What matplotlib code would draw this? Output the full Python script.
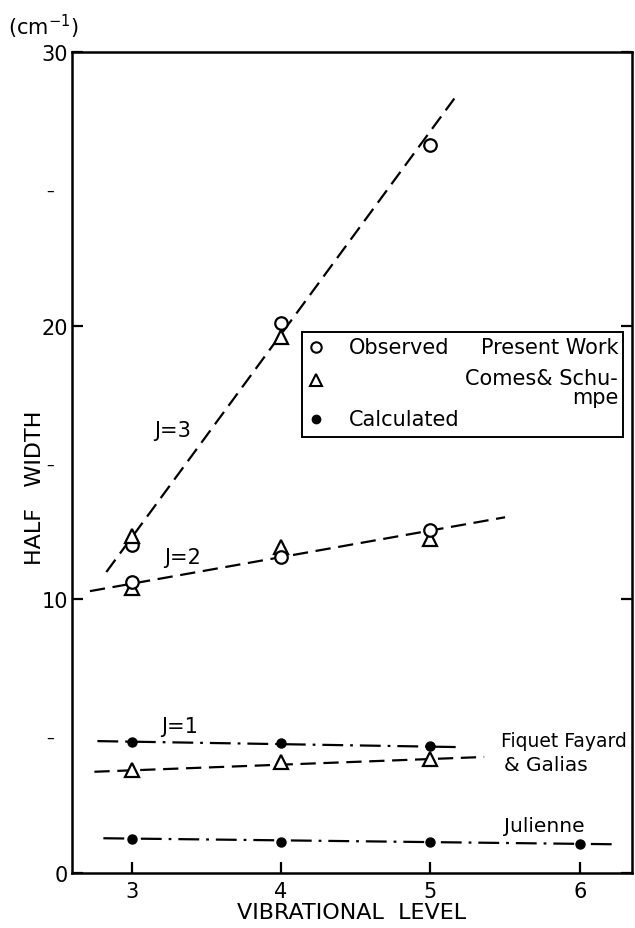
import matplotlib.pyplot as plt
from matplotlib.patches import Rectangle

plt.rcParams['font.family'] = ['DejaVu Sans']
plt.rcParams['lines.scale_dashes'] = False

# Level numbers
levels = [3, 4, 5]
levels_j = [3, 4, 5, 6]

# J=3, observed (present work) and Comes & Schumpe
j3_obs = [12.0, 20.1, 26.6]
j3_cs = [12.3, 19.6]
j3_fit_x = [2.83, 5.16]
j3_fit_y = [11.0, 28.3]

# J=2
j2_obs = [10.65, 11.55, 12.55]
j2_cs = [10.4, 11.9, 12.2]
j2_fit_x = [2.72, 5.50]
j2_fit_y = [10.3, 13.0]

# J=1, calculated (Fiquet Fayard & Galias) and Comes & Schumpe
j1_calc = [4.8, 4.74, 4.63]
j1_calc_x = [2.77, 5.20]
j1_calc_y = [4.82, 4.6]
j1_cs = [3.78, 4.06, 4.17]
j1_cs_x = [2.75, 5.36]
j1_cs_y = [3.7, 4.24]

# Julienne calculation
jul_calc = [1.25, 1.14, 1.14, 1.07]
jul_x = [2.81, 6.23]
jul_y = [1.27, 1.05]

dash = (11, 5.5)
dashdot = (15, 5, 2, 5)
lw = 1.6
k = 'black'

fig = plt.figure(figsize=(6.35, 9.29), dpi=100)
ax = fig.add_axes([0.1134, 0.0592, 0.8819, 0.8837])

# fitted lines
ax.plot(j3_fit_x, j3_fit_y, color=k, lw=lw, dashes=dash)
ax.plot(j2_fit_x, j2_fit_y, color=k, lw=lw, dashes=dash)
ax.plot(j1_calc_x, j1_calc_y, color=k, lw=lw, dashes=dashdot)
ax.plot(j1_cs_x, j1_cs_y, color=k, lw=lw, dashes=dash)
ax.plot(jul_x, jul_y, color=k, lw=lw, dashes=dashdot)

# data points
circ = dict(marker='o', ms=9, mfc='white', mec=k, mew=1.6, ls='none', zorder=3)
tri = dict(marker='^', ms=10, mfc='white', mec=k, mew=1.6, ls='none', zorder=3)
dot = dict(marker='o', ms=6.5, color=k, ls='none', zorder=3)

ax.plot(levels, j3_obs, **circ)
ax.plot(levels[:2], j3_cs, **tri)
ax.plot(levels, j2_cs, **tri)
ax.plot(levels, j2_obs, **circ)
ax.plot(levels, j1_cs, **tri)
ax.plot(levels, j1_calc, **dot)
ax.plot(levels_j, jul_calc, **dot)

ax.set_xlim(2.60, 6.35)
ax.set_ylim(0, 30)

for s in ax.spines.values():
    s.set_linewidth(1.8)

ax.set_xticks(levels_j)
ax.set_yticks([0, 10, 20, 30])
ax.set_yticks([5, 15, 25], minor=True)
ax.set_yticklabels(['–', '–', '–'], minor=True)
ax.tick_params(axis='x', direction='in', length=8, width=1.6, labelsize=15, pad=6)
ax.tick_params(axis='y', which='major', direction='in', length=8, width=1.6,
               labelsize=15, pad=3, right=True)
ax.tick_params(axis='y', which='minor', length=0, labelsize=11, pad=13)

ax.text(-0.114, 1.032, '(cm$^{-1}$)', transform=ax.transAxes, fontsize=15,
        ha='left', va='center')
fig.text(0.055, 0.475, 'HALF   WIDTH', rotation=90, fontsize=16,
         ha='center', va='center')
fig.text(0.553, 0.017, 'VIBRATIONAL  LEVEL', fontsize=16, ha='center',
         va='center')

# curve labels
ax.text(3.27, 16.2, 'J=3', fontsize=15, ha='center', va='center')
ax.text(3.34, 11.55, 'J=2', fontsize=15, ha='center', va='center')
ax.text(3.32, 5.38, 'J=1', fontsize=15, ha='center', va='center')
ax.text(5.47, 4.85, 'Fiquet Fayard', fontsize=13.5, ha='left', va='center')
ax.text(5.49, 3.96, '& Galias', fontsize=14.5, ha='left', va='center')
ax.text(5.49, 1.75, 'Julienne', fontsize=14.5, ha='left', va='center')

# key box
ax.add_patch(Rectangle((0.411, 0.531), 0.573, 0.128, transform=ax.transAxes,
                       fill=False, lw=1.4, color=k, zorder=4))
kx = 0.436
ax.plot([kx], [0.641], transform=ax.transAxes, marker='o', ms=7.5, mfc='white',
        mec=k, mew=1.5, clip_on=False)
ax.plot([kx], [0.600], transform=ax.transAxes, marker='^', ms=8, mfc='white',
        mec=k, mew=1.5, clip_on=False)
ax.plot([kx], [0.553], transform=ax.transAxes, marker='o', ms=6, color=k,
        clip_on=False)
ax.text(0.494, 0.641, 'Observed', transform=ax.transAxes,
        fontsize=15, ha='left', va='center')
ax.text(0.975, 0.641, 'Present Work', transform=ax.transAxes,
        fontsize=15, ha='right', va='center')
ax.text(0.975, 0.603, 'Comes& Schu-', transform=ax.transAxes,
        fontsize=15, ha='right', va='center')
ax.text(0.975, 0.580, 'mpe', transform=ax.transAxes,
        fontsize=15, ha='right', va='center')
ax.text(0.494, 0.553, 'Calculated', transform=ax.transAxes,
        fontsize=15, ha='left', va='center')

fig.savefig('out.png', dpi=100)
